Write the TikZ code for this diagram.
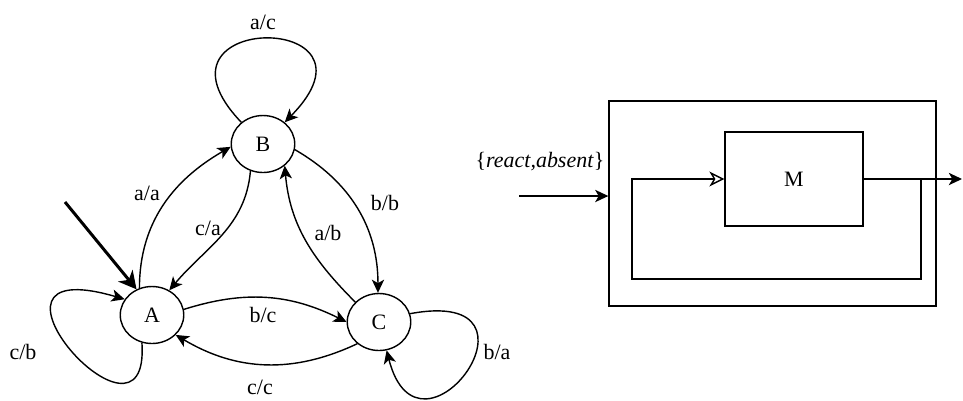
\documentclass[tikz,border=0pt]{standalone}
\usepackage{fontspec}
\setmainfont{Liberation Serif}
\usepackage{tikz}
\usetikzlibrary{positioning,arrows.meta,shapes.geometric}

\begin{document}
\begin{tikzpicture}[x=0.02cm, y=-0.02cm, line width=0.8pt,
    every node/.style={font=\fontsize{12.5}{15}\selectfont},
    state/.style={ellipse, draw, minimum width=1.27cm, minimum height=1.14cm, inner sep=0pt},
    tr/.style={-{Stealth[length=7.5pt, width=7pt, inset=2pt]}},
    fbk/.style={-{Stealth[open, length=8.5pt, width=8.5pt, inset=2.5pt]}},
    init/.style={line width=1.7pt, -{Stealth[length=10pt, width=10.5pt, inset=3pt]}}]
      \useasboundingbox (0,0) rectangle (963,400);

      % Stati
      \node (A) at (152,315) [state] {A};
      \node (B) at (263,144) [state] {B};
      \node (C) at (379,322) [state] {C};
      \coordinate (I) at (65,202);

      % Transizioni
      \draw[init] (I) -- (A.121);
      \draw[tr] (A.115) to[out=90,in=210] (B.185);
      \draw[tr] (B.245) to[out=265,in=50] (A.55);
      \draw[tr] (B.-10) to[out=-30,in=90] (C.92);
      \draw[tr] (C.140) to[out=135,in=-85] (B.-45);
      \draw[tr] (A.10) to[bend left=22] (C.180);
      \draw[tr] (C.225) to[bend left=28] (A.-40);
      \draw[tr] (B.135) .. controls +(-106,-111) and +(110,-112) .. (B.45);
      \draw[tr] (A.-110) .. controls +(9,129) and +(-174,-51) .. (A.150);
      \draw[tr] (C.15) .. controls +(150,-28) and +(33,129) .. (C.-75);

      % Etichette
      \node (lAC) at (263,22) {a/c};
      \node (lAA) at (147,193) {a/a};
      \node (lCA) at (208,228) {c/a};
      \node (lBB) at (385,203) {b/b};
      \node (lAB) at (328,233) {a/b};
      \node (lBC) at (263,315) {b/c};
      \node (lCC) at (260,387) {c/c};
      \node (lCB) at (23,352) {c/b};
      \node (lBA) at (497,352) {b/a};

      % Sistema
      \node (S) at (772.5,203.5) [draw, minimum width=6.54cm, minimum height=4.1cm] {};
      \node (M) at (794,179) [draw, minimum width=2.76cm, minimum height=1.88cm] {M};
      \node (lIn) at (540,162) {\{\textit{react,absent}\}};
      \coordinate (in) at (519,196);
      \coordinate (outp) at (962,179);
      \coordinate (fb) at (921,179);
      \coordinate (fbl) at (632,279);

      \draw[tr] (in) -- (in -| S.west);
      \draw[tr] (M.east) -- (outp);
      \draw[fbk] (fb) |- (fbl) |- (M.west);
    \end{tikzpicture}
\end{document}
